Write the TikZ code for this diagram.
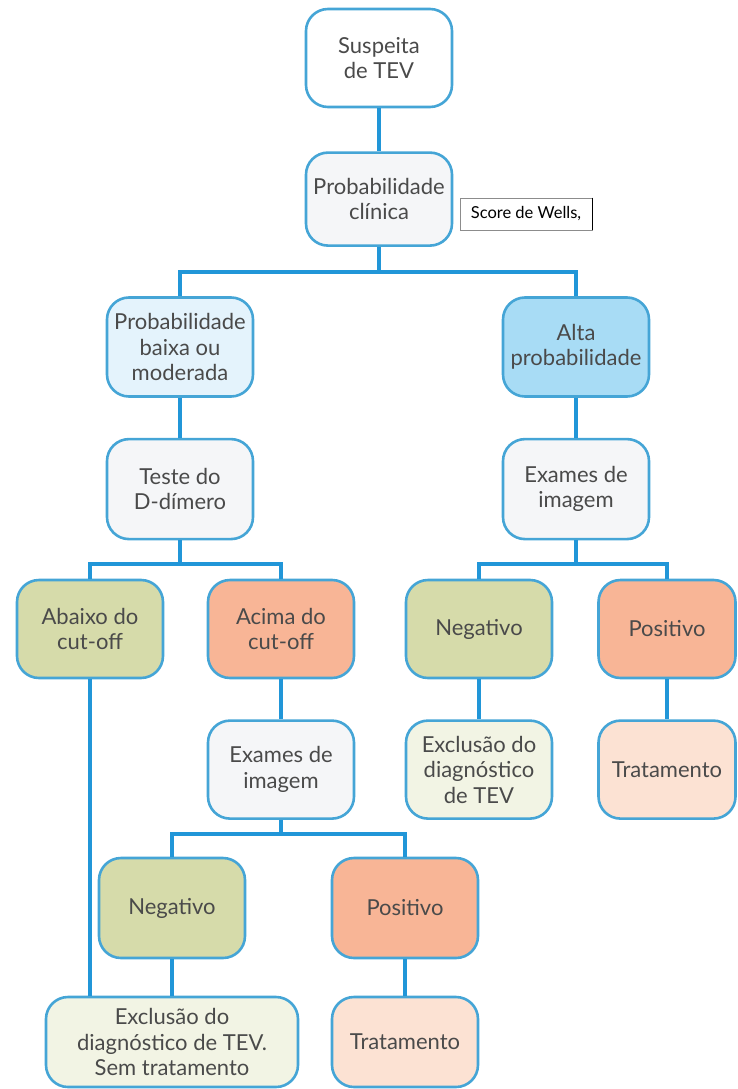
\documentclass[tikz,border=0pt]{standalone}
\usepackage{fontspec}
\setmainfont{Lato}
\usepackage{xcolor}
\usetikzlibrary{positioning}

\definecolor{edgeblue}{HTML}{45A5D6}
\definecolor{linkblue}{HTML}{2196D8}
\definecolor{inktext}{HTML}{4A4A4A}
\definecolor{paleblue}{HTML}{E4F3FC}
\definecolor{midblue}{HTML}{A8DCF5}
\definecolor{palegray}{HTML}{F5F6F8}
\definecolor{olive}{HTML}{D6DBAA}
\definecolor{salmon}{HTML}{F8B596}
\definecolor{cream}{HTML}{F2F4E4}
\definecolor{peach}{HTML}{FCE2D3}

\begin{document}
\begin{tikzpicture}[
  x=1pt, y=-1pt, node distance=40pt,
  box/.style={draw=edgeblue, line width=2.6pt, rounded corners=22pt, align=center,
    minimum width=146pt, minimum height=98pt, inner sep=2pt, text=inktext,
    font=\fontsize{22}{25.5}\selectfont},
  link/.style={draw=linkblue, line width=3.6pt},
  wells/.style={draw=black!45, line width=0.8pt, inner sep=3pt, minimum width=132pt,
    minimum height=32pt, font=\fontsize{16.5}{18}\selectfont},
]
\useasboundingbox (0,0) rectangle (737,1089);

% top of the tree
\node[box, fill=white] (susp) at (379,58) {Suspeita\\de TEV};
\node[box, fill=palegray, minimum height=93pt, below=43pt of susp] (clin) {Probabilidade\\clínica};
\node[wells, fill=white] (score) at (526,214) {Score de Wells,};
\draw[black, line width=1.6pt] (score.north east) -- (score.south east);

% two branches
\node[box, fill=paleblue, minimum height=99pt] (baixa) at (180,347) {Probabilidade\\baixa ou\\moderada};
\node[box, fill=midblue, minimum height=99pt] (alta) at (576,347) {Alta\\probabilidade};
\node[box, fill=palegray, minimum height=100pt, below=of baixa] (teste) {Teste do\\D-dímero};
\node[box, fill=palegray, minimum height=100pt, below=of alta] (exR) {Exames de\\imagem};

% third row
\node[box, fill=olive] (abaixo) at (90,629) {Abaixo do\\cut-off};
\node[box, fill=salmon] (acima) at (281,629) {Acima do\\cut-off};
\node[box, fill=olive] (negR) at (479,629) {Negativo};
\node[box, fill=salmon, minimum width=137pt] (posR) at (667,629) {Positivo};
\node[box, fill=palegray, below=of acima] (exM) {Exames de\\imagem};
\node[box, fill=cream, below=of negR] (exclR) {Exclusão do\\diagnóstico\\de TEV};
\node[box, fill=peach, minimum width=137pt, below=of posR] (tratR) {Tratamento};

% bottom rows
\node[box, fill=olive, minimum height=100pt] (negM) at (172,908) {Negativo};
\node[box, fill=salmon, minimum height=100pt] (posM) at (405,908) {Positivo};
\node[box, fill=cream, minimum width=252pt, minimum height=90pt] (exclM) at (172,1042) {Exclusão do\\diagnóstico de TEV.\\Sem tratamento};
\node[box, fill=peach, minimum height=90pt] (tratM) at (405,1042) {Tratamento};

% connectors
\coordinate (splitA) at (379,272);
\coordinate (splitB) at (180,564);
\coordinate (splitC) at (576,564);
\coordinate (splitD) at (281,834);
\draw[link] (susp) -- (clin);
\draw[link] (clin) -- (splitA) -| (baixa);
\draw[link] (splitA) -| (alta);
\draw[link] (baixa) -- (teste);
\draw[link] (alta) -- (exR);
\draw[link] (teste) -- (splitB) -| (abaixo);
\draw[link] (splitB) -| (acima);
\draw[link] (exR) -- (splitC) -| (negR);
\draw[link] (splitC) -| (posR);
\draw[link] (acima) -- (exM);
\draw[link] (negR) -- (exclR);
\draw[link] (posR) -- (tratR);
\draw[link] (exM) -- (splitD) -| (negM);
\draw[link] (splitD) -| (posM);
\draw[link] (abaixo) -- (abaixo |- exclM.north);
\draw[link] (negM) -- (exclM);
\draw[link] (posM) -- (tratM);
\end{tikzpicture}
\end{document}
